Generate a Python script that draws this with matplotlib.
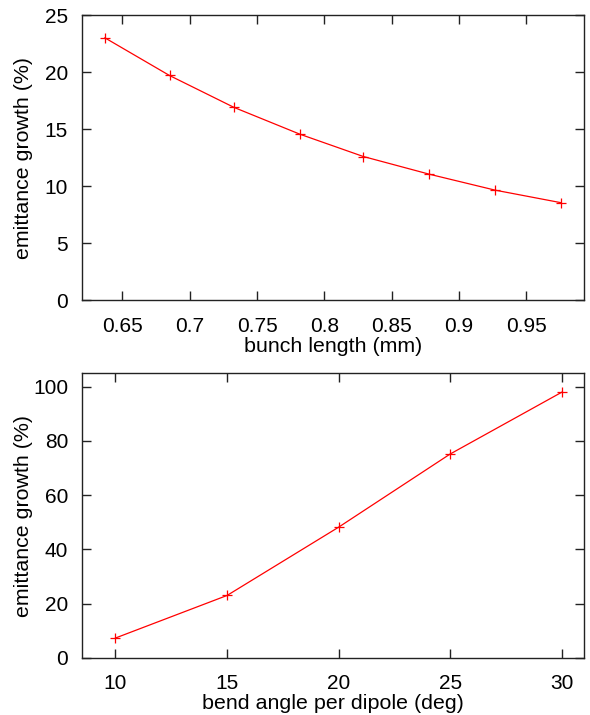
import matplotlib
matplotlib.use("Agg")
import matplotlib.pyplot as plt

plt.rcParams['font.family'] = ['Liberation Sans', 'DejaVu Sans']
plt.rcParams['font.size'] = 15

# emittance growth vs bunch length
bunch_len = [0.637, 0.685, 0.733, 0.782, 0.829, 0.878, 0.927, 0.976]
growth_len = [23.0, 19.7, 16.9, 14.55, 12.6, 11.05, 9.65, 8.55]

# emittance growth vs bend angle
bend_angle = [10, 15, 20, 25, 30]
growth_angle = [7.3, 23.0, 48.2, 75.2, 98.0]

fig = plt.figure(figsize=(5.9, 7.15), dpi=100)
ax1 = fig.add_axes([0.139, 0.580, 0.851, 0.399])
ax2 = fig.add_axes([0.139, 0.080, 0.851, 0.398])

def style(ax):
    for s in ax.spines.values():
        s.set_linewidth(1.0)
        s.set_color('#222222')
    ax.tick_params(direction='in', length=6.5, width=1.0, top=True, right=True,
                   labelsize=15, color='#222222')
    ax.tick_params(axis='y', pad=10)
    ax.tick_params(axis='x', pad=12)
    # keep both y labels in the same column
    ax.yaxis.set_label_coords(-0.098, 0.5)
    ax.xaxis.set_label_coords(0.5, -0.128)

ax1.plot(bunch_len, growth_len, color='red', lw=0.9, marker='+', ms=7.5, mew=0.9)
ax1.set_xlim(0.62, 0.993)
ax1.set_ylim(0, 25)
ax1.set_xticks([0.65, 0.7, 0.75, 0.8, 0.85, 0.9, 0.95])
ax1.set_xticklabels(['0.65', '0.7', '0.75', '0.8', '0.85', '0.9', '0.95'])
ax1.set_yticks([0, 5, 10, 15, 20, 25])
ax1.set_xlabel('bunch length (mm)', fontsize=15.4)
ax1.set_ylabel('emittance growth (%)', fontsize=15.4)
style(ax1)

ax2.plot(bend_angle, growth_angle, color='red', lw=0.9, marker='+', ms=7.5, mew=0.9)
ax2.set_xlim(8.5, 31)
ax2.set_ylim(0, 105)
ax2.set_xticks([10, 15, 20, 25, 30])
ax2.set_yticks([0, 20, 40, 60, 80, 100])
ax2.set_xlabel('bend angle per dipole (deg)', fontsize=15.4)
ax2.set_ylabel('emittance growth (%)', fontsize=15.4)
style(ax2)

fig.savefig('out.png', dpi=100)
